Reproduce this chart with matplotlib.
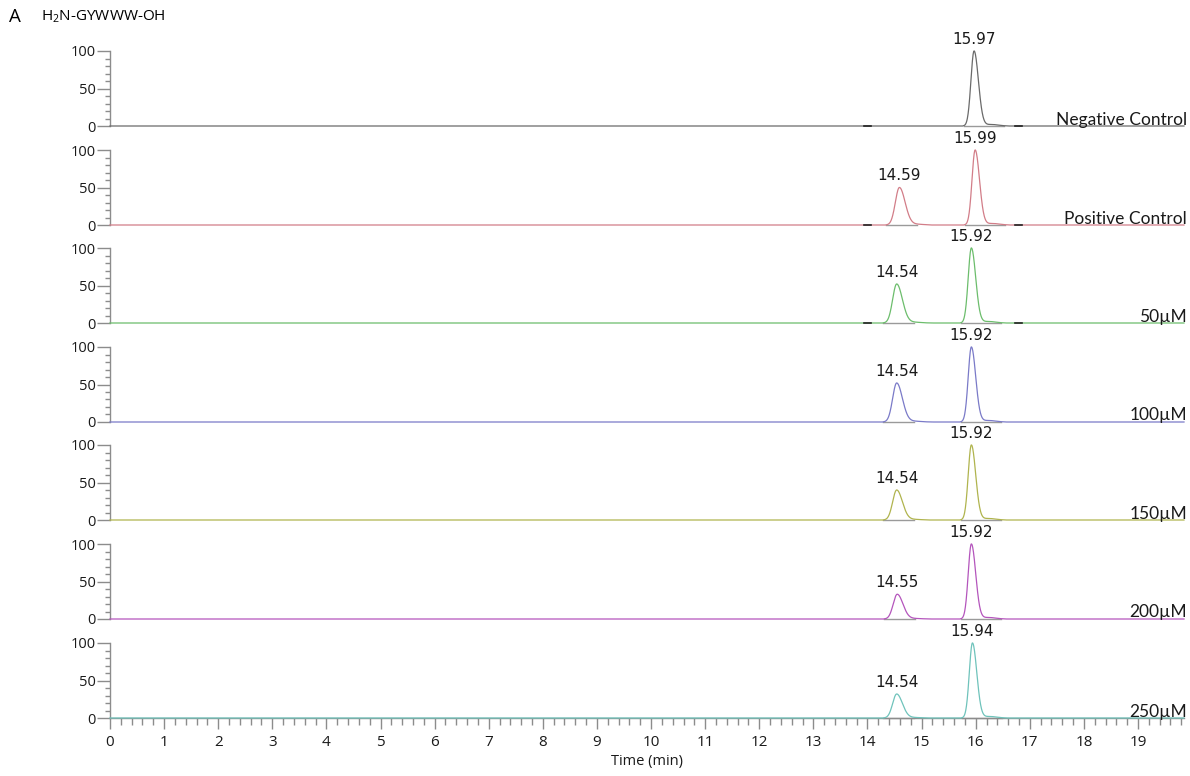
import numpy as np
import matplotlib
matplotlib.use("Agg")
import matplotlib.pyplot as plt
from matplotlib.ticker import MultipleLocator

# chromatogram traces, top to bottom
names = ["Negative Control", "Positive Control", "50µM", "100µM", "150µM", "200µM", "250µM"]
colors = ["#6a6a6a", "#d27d88", "#6cbd6c", "#7a7ac8", "#b0b44e", "#b455bc", "#6fc3bb"]
retention = [[15.97], [14.59, 15.99], [14.54, 15.92], [14.54, 15.92],
             [14.54, 15.92], [14.55, 15.92], [14.54, 15.94]]
heights = [[100], [50, 100], [52, 100], [52, 100], [40, 100], [33, 100], [32, 100]]

# pixel layout of each panel: baseline row and 100% row
base_px = [126, 225, 323, 422, 520, 619, 718]
top_px = [51, 150, 248, 347, 445, 544, 643]

W, H = 1190, 776
x_left, x_right = 110, 1184
t_max = 19.85

t = np.linspace(0, t_max, 6000)


def peak(t, rt, h):
    # skewed gaussian with a small tailing shoulder
    if rt < 15:
        sl, sr, tail = 0.075, 0.105, 0.32
    else:
        sl, sr, tail = 0.058, 0.08, 0.55
    s = np.where(t < rt, sl, sr)
    y = h * np.exp(-0.5 * ((t - rt) / s) ** 2)
    y += 0.02 * h * np.exp(-0.5 * ((t - rt - 0.32) / 0.13) ** 2)
    return y, rt - 3.3 * sl, rt + tail


fig = plt.figure(figsize=(W / 100, H / 100), dpi=100)
grey = "#8c8c8c"

for i, name in enumerate(names):
    bottom = 1 - base_px[i] / H
    height = (base_px[i] - top_px[i]) / H
    ax = fig.add_axes([x_left / W, bottom, (x_right - x_left) / W, height])

    y = np.zeros_like(t)
    for rt, h in zip(retention[i], heights[i]):
        yp, t0, t1 = peak(t, rt, h)
        y += yp
        # integration baseline under each peak
        ax.plot([t0, t1], [0, 0], color="#9a9a9a", lw=1.0, zorder=2, clip_on=False)
        ax.annotate(f"{rt:.2f}", (rt, h), xytext=(0, 3), textcoords="offset points",
                    ha="center", va="bottom", fontsize=11, family="DejaVu Sans",
                    color="#1a1a1a")
    y[(y < 0.15)] = 0
    ax.plot(t, y, color=colors[i], lw=0.9, zorder=3, clip_on=False)

    if i < 3:
        ax.plot([13.93, 14.07], [0, 0], color="#222222", lw=1.2, zorder=4, clip_on=False)
        ax.plot([16.72, 16.86], [0, 0], color="#222222", lw=1.2, zorder=4, clip_on=False)

    ax.set_xlim(0, t_max)
    ax.set_ylim(0, 100)
    for side in ["top", "right"]:
        ax.spines[side].set_visible(False)
    ax.spines["left"].set_color(grey)
    ax.spines["left"].set_linewidth(1.0)

    ax.set_yticks([0, 50, 100])
    ax.yaxis.set_minor_locator(MultipleLocator(10))
    ax.tick_params(axis="y", which="major", length=9.5, width=1.0, color=grey,
                   pad=1, labelsize=10.5, labelcolor="#1a1a1a")
    ax.tick_params(axis="y", which="minor", length=3.6, width=1.0, color=grey)
    for lab in ax.get_yticklabels():
        lab.set_family("Open Sans")

    ax.text(1.003, -0.02, name, transform=ax.transAxes, ha="right", va="bottom",
            fontsize=12.5, family="Lato", color="#1a1a1a", zorder=5)

    if i < len(names) - 1:
        ax.spines["bottom"].set_visible(False)
        ax.set_xticks([])
    else:
        ax.spines["bottom"].set_color(grey)
        ax.spines["bottom"].set_linewidth(1.0)
        ax.set_xticks(np.arange(0, 20))
        ax.xaxis.set_minor_locator(MultipleLocator(0.2))
        ax.tick_params(axis="x", which="major", length=8, width=1.0, color=grey,
                       pad=4, labelsize=11, labelcolor="#1a1a1a")
        ax.tick_params(axis="x", which="minor", length=5, width=1.0, color=grey)
        for lab in ax.get_xticklabels():
            lab.set_family("Open Sans")
        ax.set_xlabel("Time (min)", fontsize=10.5, family="Open Sans", labelpad=3,
                      color="#1a1a1a")
    ax.patch.set_alpha(0)

fig.text(9 / W, 1 - 17 / H, "A", fontsize=13.5, family="Open Sans", va="center")
fig.text(41 / W, 1 - 17 / H, r"H$_\mathregular{2}$N-GYWWW-OH", fontsize=11,
         family="Open Sans", va="center")

fig.savefig("out.png", dpi=100)
